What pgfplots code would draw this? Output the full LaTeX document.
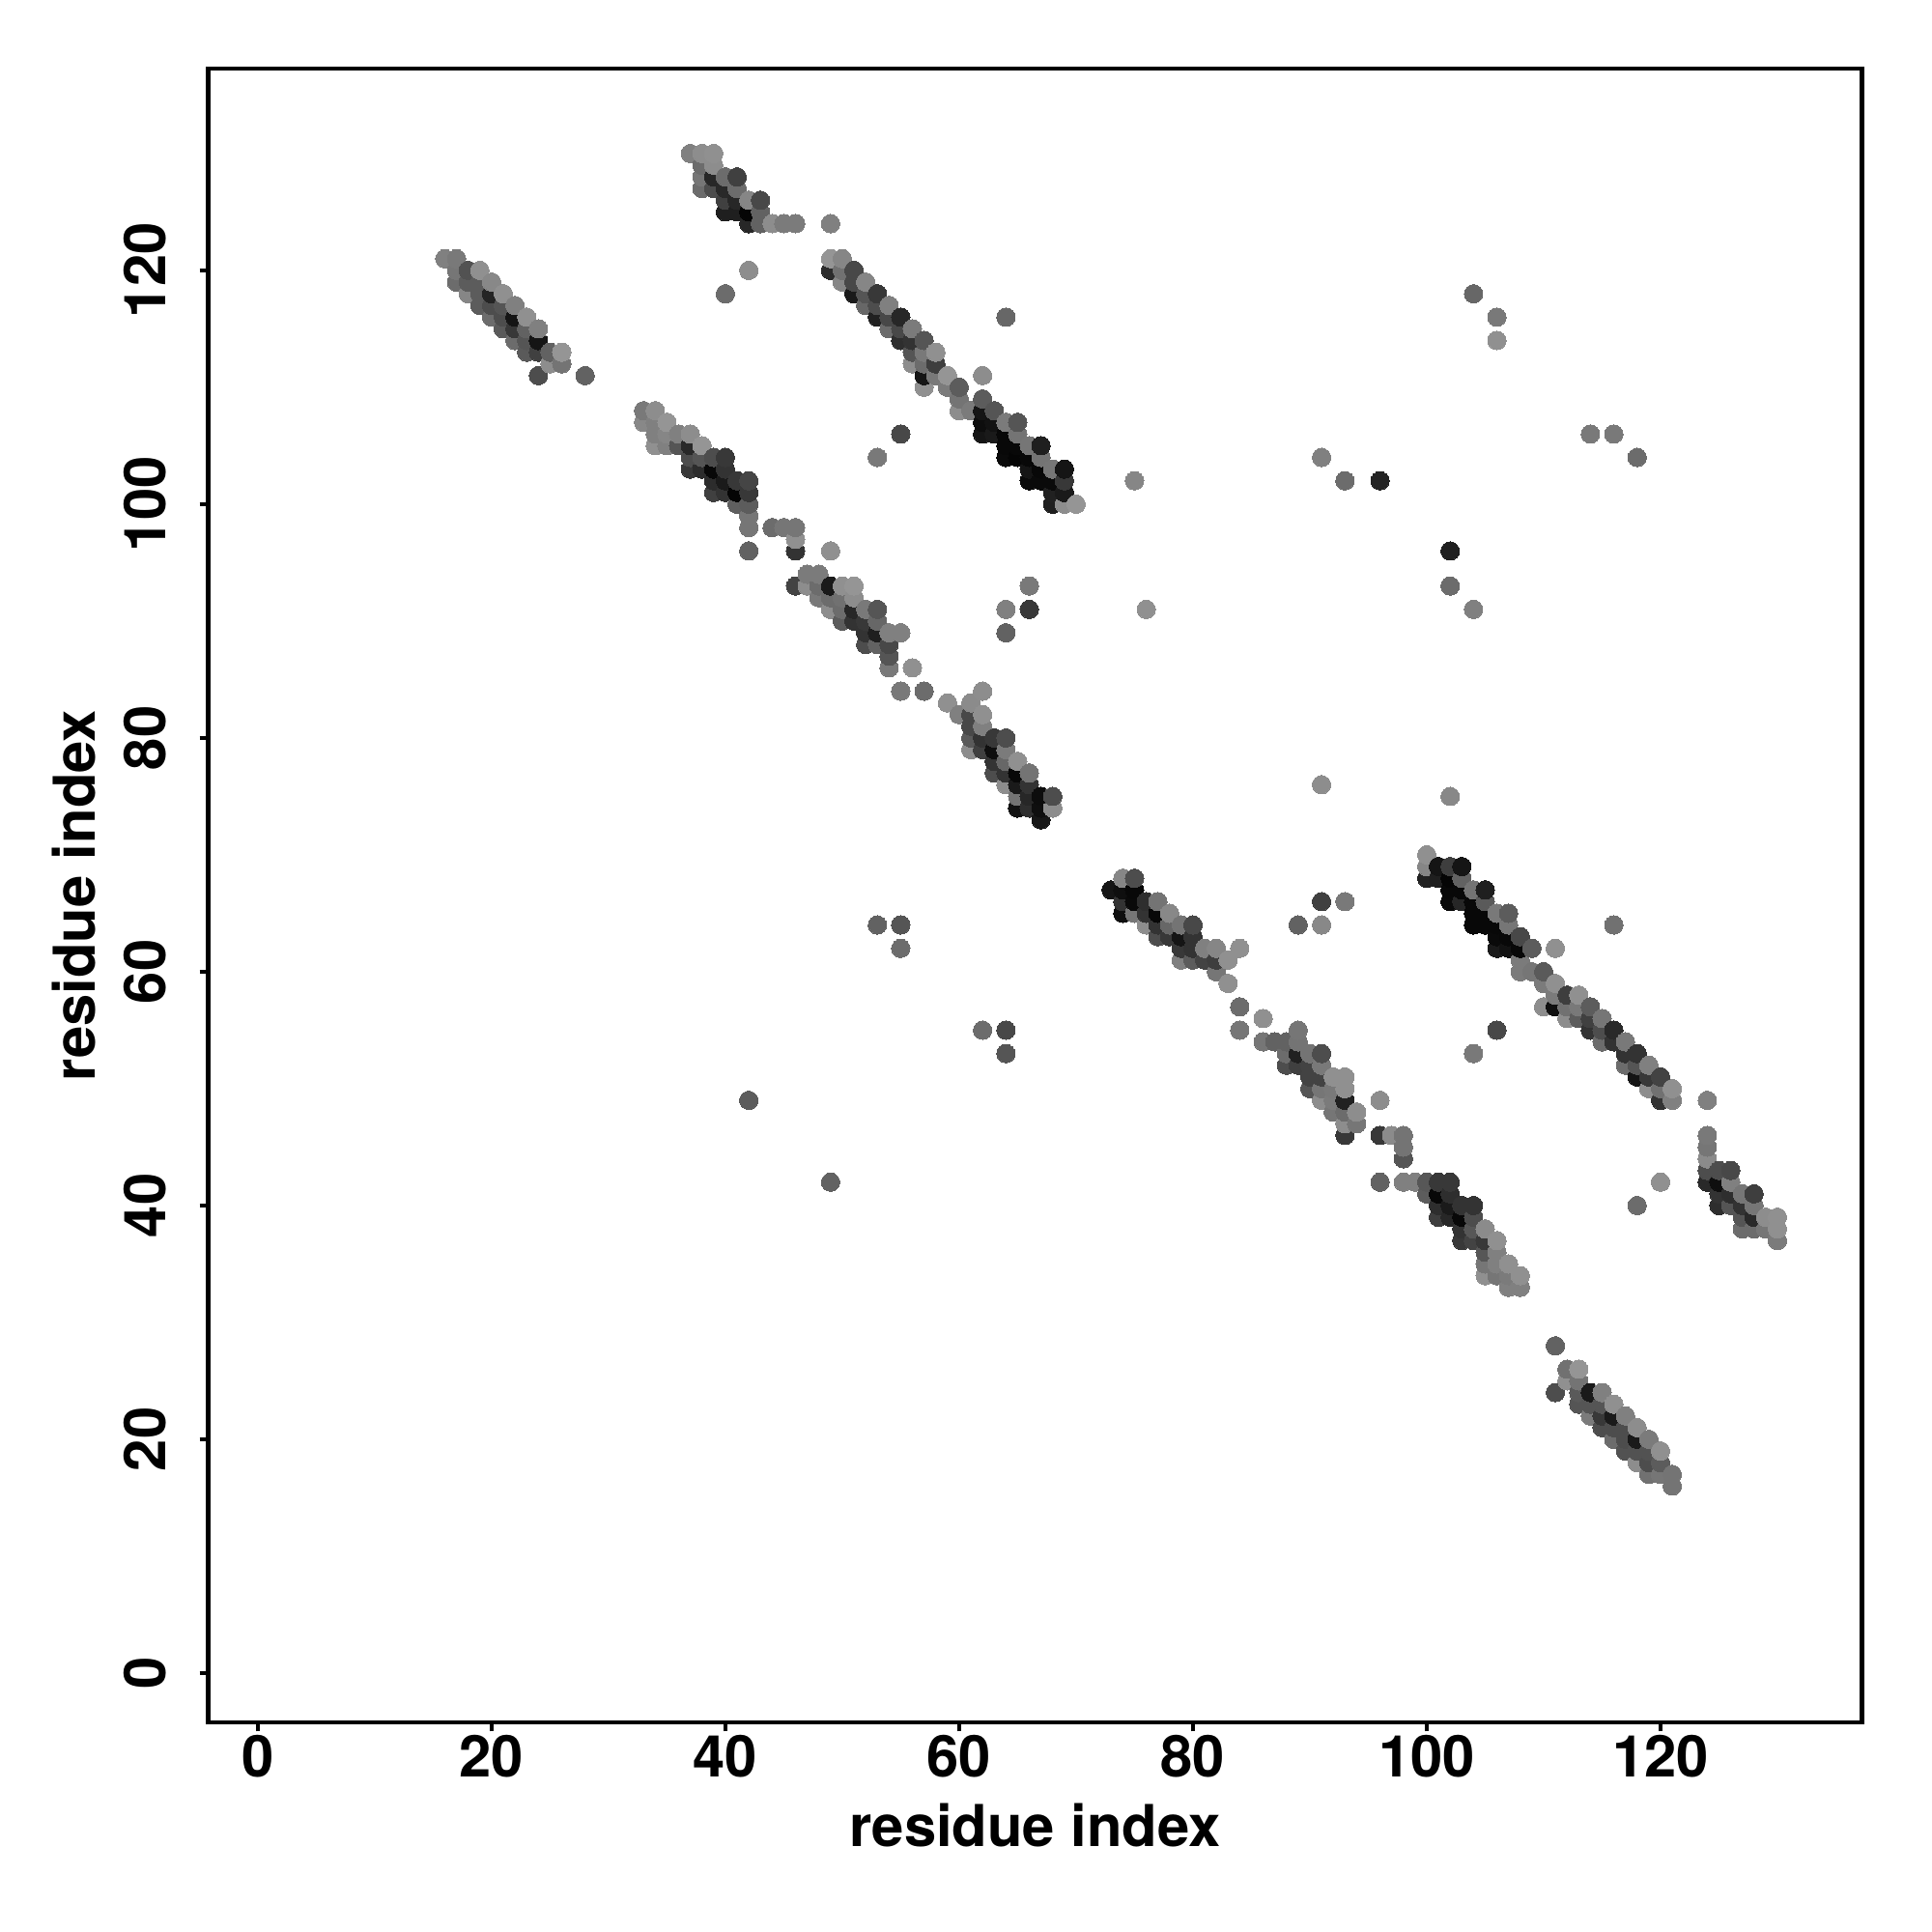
\documentclass[border=0pt]{standalone}
\usepackage{fontspec}
\setmainfont{TeX Gyre Heros}
\usepackage{pgfplots}
\pgfplotsset{compat=1.18}

\begin{document}
\begin{tikzpicture}
\path[use as bounding box] (-2.156cm,-2.167cm) rectangle (17.844cm,17.833cm);
\begin{axis}[
    at={(0,0)}, anchor=south west,
    scale only axis,
    width=17.12cm, height=17.12cm,
    xmin=-4.24, xmax=137.24,
    ymin=-4.24, ymax=137.24,
    xtick={0,20,...,120}, ytick={0,20,...,120},
    tick align=outside, tick pos=left,
    major tick length=0.9mm,
    axis line style={line width=1.25pt},
    every tick/.style={black,line width=1.25pt},
    /pgf/number format/assume math mode=true,
    tick label style={font=\fontsize{17}{20}\selectfont\bfseries},
    xticklabel style={anchor=base,yshift=-4.75mm,inner sep=0pt},
    yticklabel style={rotate=90,anchor=base,yshift=3.5mm,inner sep=0pt},
    xlabel={residue index}, ylabel={residue index},
    every axis x label/.style={at={(axis description cs:0.5,0)},anchor=base,yshift=-12.85mm,font=\fontsize{17}{20}\selectfont\bfseries},
    every axis y label/.style={at={(axis description cs:0,0.5)},rotate=90,anchor=base,yshift=11.7mm,font=\fontsize{17}{20}\selectfont\bfseries},
    colormap={bw}{gray(0cm)=(0); gray(1cm)=(1)},
    point meta min=0, point meta max=1,
]
% one line per x, gray level in brackets
\addplot[scatter, only marks, mark=*, mark size=2.72pt, point meta=explicit,
    mark options={line width=0pt},
    scatter/use mapped color={draw=mapped color,fill=mapped color}] coordinates {
(16,121)[.5]
(17,119)[.42] (17,120)[.46] (17,121)[.47]
(18,118)[.52] (18,119)[.36] (18,120)[.32]
(19,117)[.36] (19,118)[.36] (19,119)[.36] (19,120)[.56]
(20,116)[.42] (20,117)[.3] (20,118)[.14] (20,119)[.53]
(21,115)[.35] (21,116)[.3] (21,117)[.33] (21,118)[.56]
(22,114)[.42] (22,115)[.22] (22,116)[.08] (22,117)[.5]
(23,113)[.35] (23,114)[.33] (23,115)[.38] (23,116)[.56]
(24,111)[.3] (24,113)[.25] (24,114)[.08] (24,115)[.5]
(25,112)[.55] (25,113)[.38]
(26,112)[.45] (26,113)[.58]
(28,111)[.38]
(33,107)[.53] (33,108)[.47]
(34,105)[.56] (34,106)[.5] (34,107)[.5] (34,108)[.55]
(35,105)[.5] (35,106)[.52] (35,107)[.58]
(36,105)[.33] (36,106)[.5]
(37,103)[.22] (37,104)[.3] (37,105)[.16] (37,106)[.55] (37,130)[.5]
(38,103)[.17] (38,104)[.33] (38,105)[.58] (38,127)[.42] (38,128)[.46] (38,129)[.42] (38,130)[.55]
(39,101)[.25] (39,102)[.17] (39,103)[.03] (39,104)[.3] (39,127)[.3] (39,128)[.15] (39,129)[.55] (39,130)[.56]
(40,101)[.2] (40,102)[.1] (40,103)[.2] (40,104)[.22] (40,118)[.42] (40,125)[.12] (40,126)[.25] (40,127)[.16] (40,128)[.42]
(41,100)[.37] (41,101)[.02] (41,102)[.22] (41,125)[.12] (41,126)[.15] (41,127)[.42] (41,128)[.25]
(42,49)[.36] (42,96)[.38] (42,98)[.46] (42,99)[.46] (42,100)[.36] (42,101)[.22] (42,102)[.27] (42,120)[.55] (42,124)[.15] (42,125)[.02] (42,126)[.52]
(43,124)[.38] (43,125)[.38] (43,126)[.28]
(44,98)[.42] (44,124)[.55]
(45,98)[.46] (45,124)[.48]
(46,93)[.26] (46,96)[.2] (46,97)[.56] (46,98)[.46] (46,124)[.48]
(47,93)[.55] (47,94)[.48]
(48,92)[.47] (48,93)[.42] (48,94)[.48]
(49,42)[.38] (49,91)[.55] (49,92)[.42] (49,93)[.1] (49,96)[.56] (49,120)[.17] (49,121)[.58] (49,124)[.5]
(50,90)[.36] (50,91)[.42] (50,92)[.44] (50,93)[.56] (50,119)[.52] (50,120)[.44] (50,121)[.52]
(51,90)[.2] (51,91)[.15] (51,92)[.55] (51,93)[.58] (51,118)[.1] (51,119)[.28] (51,120)[.28]
(52,88)[.3] (52,89)[.2] (52,90)[.22] (52,91)[.47] (52,117)[.4] (52,118)[.33] (52,119)[.52]
(53,64)[.38] (53,88)[.38] (53,89)[.12] (53,90)[.4] (53,91)[.33] (53,104)[.47] (53,116)[.13] (53,117)[.3] (53,118)[.22]
(54,86)[.47] (54,87)[.33] (54,88)[.28] (54,89)[.5] (54,115)[.42] (54,116)[.28] (54,117)[.5]
(55,62)[.42] (55,64)[.33] (55,84)[.47] (55,89)[.5] (55,106)[.28] (55,114)[.18] (55,115)[.28] (55,116)[.15]
(56,86)[.56] (56,112)[.55] (56,113)[.33] (56,114)[.2] (56,115)[.48]
(57,84)[.42] (57,110)[.56] (57,111)[.08] (57,112)[.42] (57,113)[.47] (57,114)[.33]
(58,111)[.47] (58,112)[.24] (58,113)[.56]
(59,83)[.56] (59,110)[.48] (59,111)[.58]
(60,82)[.5] (60,108)[.55] (60,109)[.45] (60,110)[.36]
(61,79)[.55] (61,80)[.35] (61,81)[.28] (61,82)[.28] (61,83)[.54] (61,108)[.48]
(62,55)[.42] (62,79)[.25] (62,80)[.2] (62,81)[.5] (62,82)[.56] (62,84)[.55] (62,106)[.08] (62,107)[.05] (62,108)[.08] (62,109)[.36] (62,111)[.55]
(63,77)[.3] (63,78)[.2] (63,79)[.06] (63,80)[.22] (63,106)[.1] (63,107)[.07] (63,108)[.33]
(64,53)[.33] (64,55)[.28] (64,76)[.55] (64,77)[.2] (64,78)[.4] (64,79)[.48] (64,80)[.3] (64,89)[.38] (64,91)[.5] (64,104)[.04] (64,105)[.03] (64,106)[.03] (64,107)[.48] (64,116)[.4]
(65,74)[.07] (65,75)[.45] (65,76)[.1] (65,77)[.03] (65,78)[.56] (65,104)[.02] (65,105)[.03] (65,106)[.45] (65,107)[.33]
(66,74)[.18] (66,75)[.15] (66,76)[.2] (66,77)[.45] (66,91)[.22] (66,93)[.47] (66,102)[.04] (66,103)[.08] (66,104)[.03] (66,105)[.46]
(67,73)[.09] (67,74)[.06] (67,75)[.05] (67,102)[.04] (67,103)[.03] (67,104)[.45] (67,105)[.12]
(68,74)[.55] (68,75)[.3] (68,100)[.12] (68,101)[.13] (68,102)[.04] (68,103)[.46]
(69,100)[.55] (69,101)[.1] (69,102)[.22] (69,103)[.08]
(70,100)[.58]
(73,67)[.08]
(74,65)[.06] (74,66)[.2] (74,67)[.06] (74,68)[.52]
(75,65)[.46] (75,66)[.04] (75,67)[.03] (75,68)[.3] (75,102)[.52]
(76,64)[.55] (76,65)[.2] (76,66)[.18] (76,91)[.56]
(77,63)[.3] (77,64)[.2] (77,65)[.03] (77,66)[.45]
(78,63)[.22] (78,64)[.4] (78,65)[.53]
(79,61)[.5] (79,62)[.22] (79,63)[.08] (79,64)[.45]
(80,61)[.36] (80,62)[.2] (80,63)[.2] (80,64)[.28]
(81,61)[.26] (81,62)[.5]
(82,60)[.46] (82,61)[.24] (82,62)[.52]
(83,59)[.56] (83,61)[.56]
(84,55)[.46] (84,57)[.42] (84,62)[.56]
(86,54)[.46] (86,56)[.56]
(87,54)[.38]
(88,52)[.3] (88,53)[.42] (88,54)[.38]
(89,52)[.25] (89,53)[.13] (89,54)[.45] (89,55)[.46] (89,64)[.38]
(90,50)[.33] (90,51)[.26] (90,52)[.26] (90,53)[.45]
(91,49)[.55] (91,50)[.46] (91,51)[.26] (91,52)[.47] (91,53)[.3] (91,64)[.53] (91,66)[.25] (91,76)[.55] (91,104)[.5]
(92,48)[.46] (92,49)[.48] (92,50)[.47] (92,51)[.56]
(93,46)[.22] (93,47)[.55] (93,48)[.42] (93,49)[.13] (93,50)[.56] (93,51)[.56] (93,66)[.47] (93,102)[.42]
(94,47)[.46] (94,48)[.55]
(96,42)[.38] (96,46)[.22] (96,49)[.55] (96,102)[.14]
(97,46)[.54]
(98,42)[.5] (98,44)[.33] (98,45)[.45] (98,46)[.45]
(99,42)[.5]
(100,41)[.36] (100,42)[.34] (100,68)[.13] (100,69)[.52] (100,70)[.56]
(101,39)[.24] (101,40)[.18] (101,41)[.03] (101,42)[.22] (101,68)[.12] (101,69)[.08]
(102,39)[.15] (102,40)[.1] (102,41)[.18] (102,42)[.22] (102,66)[.04] (102,67)[.03] (102,68)[.02] (102,69)[.24] (102,75)[.53] (102,93)[.42] (102,96)[.12]
(103,37)[.22] (103,38)[.2] (103,39)[.03] (103,40)[.2] (103,66)[.15] (103,67)[.03] (103,68)[.38] (103,69)[.08]
(104,37)[.26] (104,38)[.34] (104,39)[.3] (104,40)[.2] (104,53)[.47] (104,64)[.03] (104,65)[.03] (104,66)[.03] (104,67)[.45] (104,91)[.5] (104,118)[.4]
(105,34)[.56] (105,35)[.46] (105,36)[.34] (105,37)[.22] (105,38)[.54] (105,64)[.03] (105,65)[.03] (105,66)[.35] (105,67)[.12]
(106,34)[.46] (106,35)[.5] (106,36)[.5] (106,37)[.56] (106,55)[.28] (106,62)[.1] (106,63)[.04] (106,64)[.03] (106,65)[.47] (106,114)[.56] (106,116)[.47]
(107,33)[.5] (107,34)[.48] (107,35)[.56] (107,62)[.07] (107,63)[.03] (107,64)[.46] (107,65)[.36]
(108,33)[.5] (108,34)[.56] (108,60)[.48] (108,61)[.48] (108,62)[.03] (108,63)[.28]
(109,60)[.46] (109,62)[.36]
(110,57)[.55] (110,59)[.48] (110,60)[.35]
(111,24)[.3] (111,28)[.38] (111,57)[.06] (111,58)[.48] (111,59)[.56] (111,62)[.56]
(112,25)[.56] (112,26)[.44] (112,56)[.55] (112,57)[.44] (112,58)[.24]
(113,23)[.33] (113,24)[.35] (113,25)[.45] (113,26)[.58] (113,56)[.36] (113,57)[.47] (113,58)[.56]
(114,22)[.48] (114,23)[.33] (114,24)[.1] (114,55)[.2] (114,56)[.25] (114,57)[.36] (114,106)[.47]
(115,21)[.3] (115,22)[.22] (115,23)[.33] (115,24)[.5] (115,54)[.42] (115,55)[.3] (115,56)[.46]
(116,20)[.42] (116,21)[.3] (116,22)[.1] (116,23)[.56] (116,54)[.2] (116,55)[.16] (116,64)[.44] (116,106)[.47]
(117,19)[.32] (117,20)[.3] (117,21)[.3] (117,22)[.5] (117,52)[.42] (117,53)[.2] (117,54)[.47]
(118,18)[.55] (118,19)[.32] (118,20)[.1] (118,21)[.55] (118,40)[.42] (118,51)[.08] (118,52)[.33] (118,53)[.2] (118,104)[.42]
(119,17)[.44] (119,18)[.3] (119,19)[.32] (119,20)[.48] (119,50)[.55] (119,51)[.22] (119,52)[.5]
(120,17)[.46] (120,18)[.36] (120,19)[.56] (120,42)[.56] (120,49)[.2] (120,50)[.44] (120,51)[.26]
(121,16)[.45] (121,17)[.45] (121,49)[.5] (121,50)[.56]
(124,42)[.16] (124,43)[.3] (124,44)[.54] (124,45)[.46] (124,46)[.47] (124,49)[.5]
(125,40)[.18] (125,41)[.2] (125,42)[.06] (125,43)[.3]
(126,40)[.33] (126,41)[.18] (126,42)[.5] (126,43)[.28]
(127,38)[.42] (127,39)[.33] (127,40)[.2] (127,41)[.46]
(128,38)[.42] (128,39)[.16] (128,40)[.46] (128,41)[.24]
(129,38)[.46] (129,39)[.55]
(130,37)[.48] (130,38)[.56] (130,39)[.56]
};
\end{axis}
\end{tikzpicture}
\end{document}
